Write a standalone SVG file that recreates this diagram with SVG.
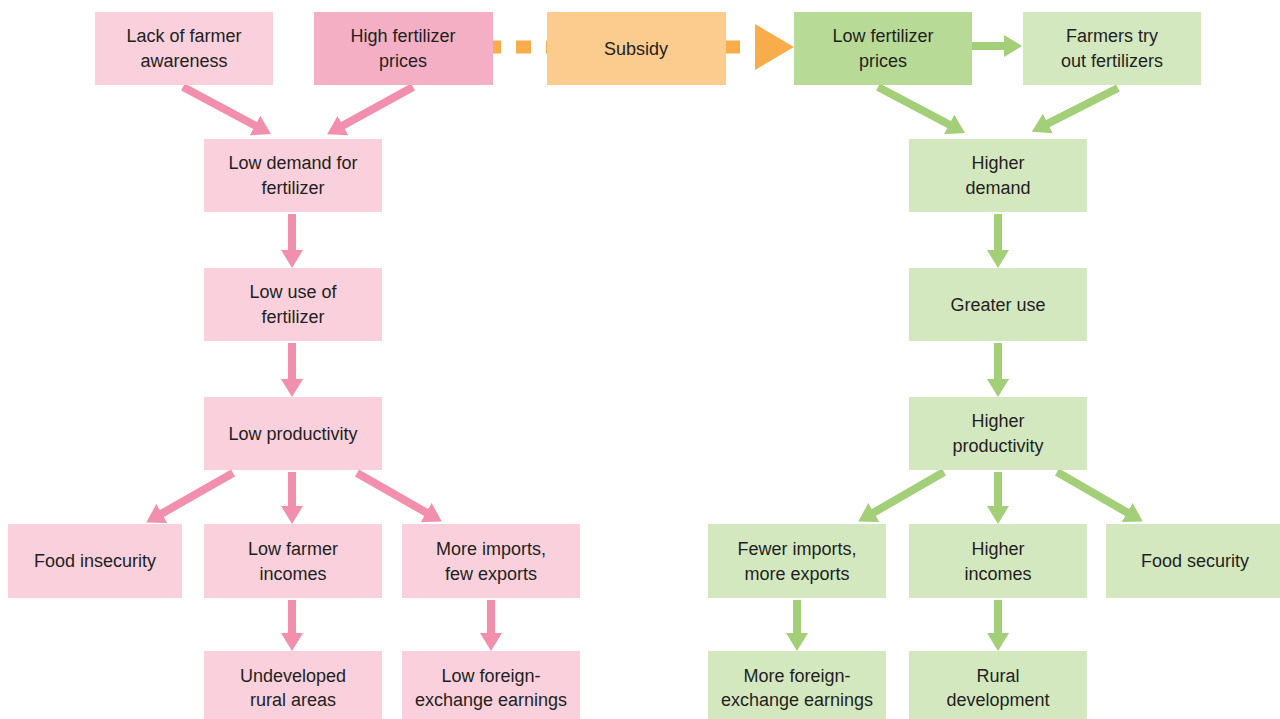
<svg xmlns="http://www.w3.org/2000/svg" width="1280" height="719" viewBox="0 0 1280 719">
<defs>
<style>
text{font-family:"Liberation Sans",Arial,sans-serif;font-size:18px;fill:#231f20;text-anchor:middle}
.pk{fill:#f9d0dc}.pk2{fill:#f5afc4}.or{fill:#fccb8e}.gn{fill:#d4e8c0}.gn2{fill:#b7db96}
.ap{stroke:#f28fac;stroke-width:8;fill:none;marker-end:url(#mp)}
.ag{stroke:#a2cf78;stroke-width:8;fill:none;marker-end:url(#mg)}
</style>
<marker id="mp" viewBox="0 0 18 22" refX="1" refY="11" markerWidth="18" markerHeight="22" markerUnits="userSpaceOnUse" orient="auto"><path d="M0,0 L18,11 L0,22 Z" fill="#f28fac"/></marker>
<marker id="mg" viewBox="0 0 18 22" refX="1" refY="11" markerWidth="18" markerHeight="22" markerUnits="userSpaceOnUse" orient="auto"><path d="M0,0 L18,11 L0,22 Z" fill="#a2cf78"/></marker>
</defs>
<rect width="1280" height="719" fill="#ffffff"/>
<g id="connectors">
<line x1="493" y1="47" x2="740" y2="47" stroke="#f9ad4a" stroke-width="13" stroke-dasharray="15 15" stroke-dashoffset="7"/>
<path d="M755,24 L794,47 L755,70 Z" fill="#f9ad4a"/>
<line class="ap" x1="183" y1="87" x2="256" y2="126"/>
<line class="ap" x1="413" y1="87" x2="342" y2="126"/>
<line class="ap" x1="292" y1="214" x2="292" y2="251"/>
<line class="ap" x1="292" y1="343" x2="292" y2="380"/>
<line class="ap" x1="292" y1="472" x2="292" y2="507"/>
<line class="ap" x1="233" y1="473" x2="161" y2="514"/>
<line class="ap" x1="357" y1="473" x2="427" y2="513"/>
<line class="ap" x1="292" y1="600" x2="292" y2="634"/>
<line class="ap" x1="491" y1="600" x2="491" y2="634"/>
<line class="ag" x1="972" y1="46" x2="1005" y2="46"/>
<line class="ag" x1="878" y1="87" x2="950" y2="125"/>
<line class="ag" x1="1118" y1="88" x2="1047" y2="124"/>
<line class="ag" x1="998" y1="214" x2="998" y2="251"/>
<line class="ag" x1="998" y1="343" x2="998" y2="380"/>
<line class="ag" x1="998" y1="472" x2="998" y2="507"/>
<line class="ag" x1="944" y1="472" x2="873" y2="513"/>
<line class="ag" x1="1057" y1="472" x2="1128" y2="513"/>
<line class="ag" x1="797" y1="600" x2="797" y2="634"/>
<line class="ag" x1="998" y1="600" x2="998" y2="634"/>
</g>
<g id="n1"><rect class="pk" x="95" y="12" width="178" height="73"/><text x="184" y="42">Lack of farmer</text><text x="184" y="67">awareness</text></g>
<g id="n2"><rect class="pk2" x="314" y="12" width="179" height="73"/><text x="403" y="42">High fertilizer</text><text x="403" y="67">prices</text></g>
<g id="n3"><rect class="or" x="547" y="12" width="179" height="73"/><text x="636" y="55">Subsidy</text></g>
<g id="n4"><rect class="gn2" x="794" y="12" width="178" height="73"/><text x="883" y="42">Low fertilizer</text><text x="883" y="67">prices</text></g>
<g id="n5"><rect class="gn" x="1023" y="12" width="178" height="73"/><text x="1112" y="42">Farmers try</text><text x="1112" y="67">out fertilizers</text></g>
<g id="n6"><rect class="pk" x="204" y="139" width="178" height="73"/><text x="293" y="169">Low demand for</text><text x="293" y="194">fertilizer</text></g>
<g id="n7"><rect class="pk" x="204" y="268" width="178" height="73"/><text x="293" y="298">Low use of</text><text x="293" y="323">fertilizer</text></g>
<g id="n8"><rect class="pk" x="204" y="397" width="178" height="73"/><text x="293" y="440">Low productivity</text></g>
<g id="n9"><rect class="pk" x="8" y="524" width="174" height="74"/><text x="95" y="567">Food insecurity</text></g>
<g id="n10"><rect class="pk" x="204" y="524" width="178" height="74"/><text x="293" y="555">Low farmer</text><text x="293" y="580">incomes</text></g>
<g id="n11"><rect class="pk" x="402" y="524" width="178" height="74"/><text x="491" y="555">More imports,</text><text x="491" y="580">few exports</text></g>
<g id="n12"><rect class="pk" x="204" y="651" width="178" height="68"/><text x="293" y="682">Undeveloped</text><text x="293" y="706">rural areas</text></g>
<g id="n13"><rect class="pk" x="402" y="651" width="178" height="68"/><text x="491" y="682">Low foreign-</text><text x="491" y="706">exchange earnings</text></g>
<g id="n14"><rect class="gn" x="909" y="139" width="178" height="73"/><text x="998" y="169">Higher</text><text x="998" y="194">demand</text></g>
<g id="n15"><rect class="gn" x="909" y="268" width="178" height="73"/><text x="998" y="311">Greater use</text></g>
<g id="n16"><rect class="gn" x="909" y="397" width="178" height="73"/><text x="998" y="427">Higher</text><text x="998" y="452">productivity</text></g>
<g id="n17"><rect class="gn" x="708" y="524" width="178" height="74"/><text x="797" y="555">Fewer imports,</text><text x="797" y="580">more exports</text></g>
<g id="n18"><rect class="gn" x="909" y="524" width="178" height="74"/><text x="998" y="555">Higher</text><text x="998" y="580">incomes</text></g>
<g id="n19"><rect class="gn" x="1106" y="524" width="174" height="74"/><text x="1195" y="567">Food security</text></g>
<g id="n20"><rect class="gn" x="708" y="651" width="178" height="68"/><text x="797" y="682">More foreign-</text><text x="797" y="706">exchange earnings</text></g>
<g id="n21"><rect class="gn" x="909" y="651" width="178" height="68"/><text x="998" y="682">Rural</text><text x="998" y="706">development</text></g>
</svg>
